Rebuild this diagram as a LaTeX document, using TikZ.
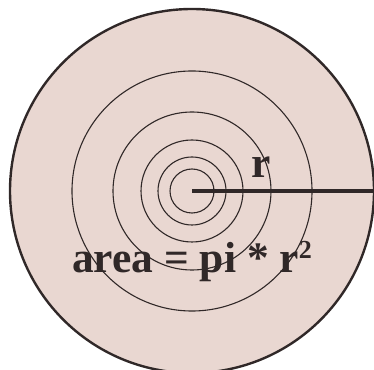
\documentclass[tikz,border=0pt]{standalone}
\usepackage{fontspec}
\setmainfont{Liberation Serif}
\usepackage{xcolor}
\usetikzlibrary{positioning}
\definecolor{discfill}{RGB}{233,215,209}
\definecolor{ink}{RGB}{48,40,40}

\begin{document}
\begin{tikzpicture}[x=1pt,y=1pt,
    ring/.style={draw=ink,line width=1.1pt},
    lbl/.style={font=\bfseries\fontsize{43.5}{44}\selectfont,text=ink,inner sep=0pt}]
    \useasboundingbox (0,0) rectangle (374,369);
    % centre of the disc and the end of the radius on the rim
    \coordinate (c) at (192,178);
    \coordinate (rim) at (374,178);
    % outer disc
    \fill[discfill] (c) circle[radius=182pt];
    \draw[ink,line width=2.4pt] (c) circle[radius=182pt];
    % rings growing outwards
    \foreach \rr in {22,34,51,79,120} {
      \draw[ring] (c) circle[radius=\rr pt];
    }
    % radius
    \draw[ink,line width=4pt] (c) -- (rim);
    \node[lbl] (rlab) at (261,202) {r};
    \node[lbl,anchor=base] (area) at (192,96)
      {area = pi * r\raisebox{14pt}{\fontsize{26}{26}\selectfont 2}};
\end{tikzpicture}
\end{document}
